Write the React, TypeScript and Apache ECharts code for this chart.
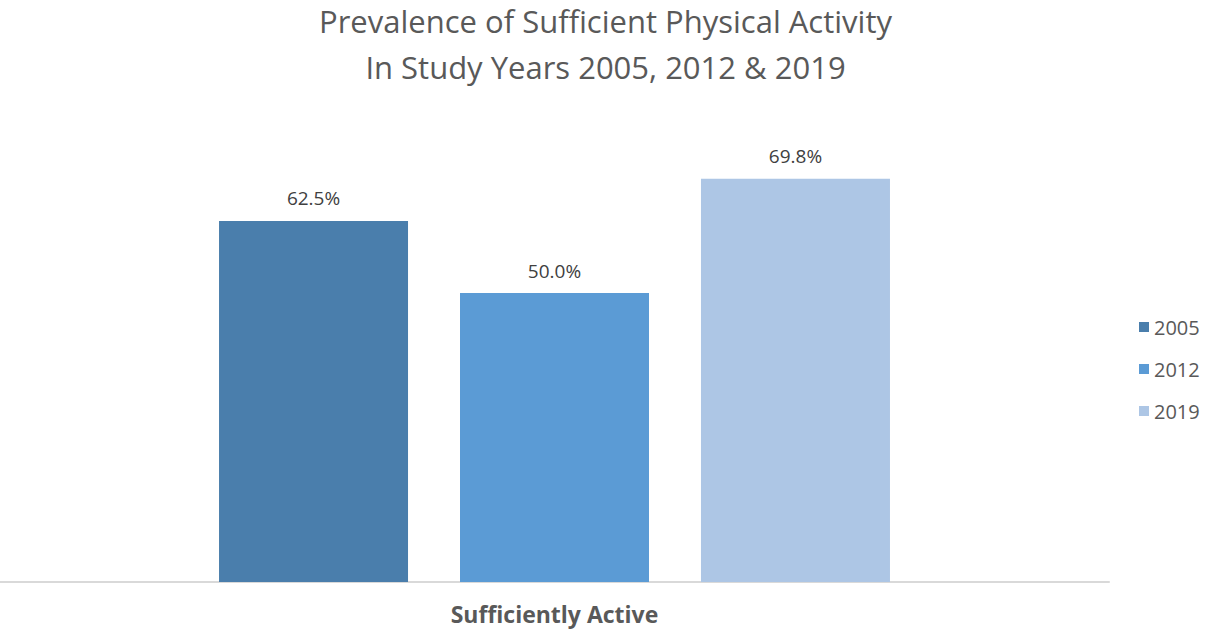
import React, { useEffect, useRef } from "react";
import * as echarts from "echarts";

const categories = ["Sufficiently Active"];
const years = ["2005", "2012", "2019"];
const values2005 = [62.5];
const values2012 = [50.0];
const values2019 = [69.8];
const colors = ["#4a7eac", "#5b9bd5", "#adc6e5"];
const titleText = "Prevalence of Sufficient Physical Activity\nIn Study Years 2005, 2012 & 2019";

export default function App() {
  const ref = useRef<HTMLDivElement>(null);
  useEffect(() => {
    const chart = echarts.init(ref.current!, null, { renderer: "svg" });
    const seriesData = [values2005, values2012, values2019];
    chart.setOption({
      animation: false,
      backgroundColor: "#ffffff",
      textStyle: { fontFamily: "Open Sans" },
      title: {
        text: titleText,
        left: "center",
        top: -7,
        textStyle: {
          fontFamily: "Open Sans",
          fontSize: 31,
          fontWeight: "normal",
          color: "#595959",
          lineHeight: 46,
        },
      },
      legend: {
        orient: "vertical",
        left: 1134,
        top: 312,
        itemWidth: 10,
        itemHeight: 10,
        itemGap: 22,
        icon: "rect",
        textStyle: { fontSize: 20, color: "#595959", fontFamily: "Open Sans" },
        data: years,
      },
      grid: { left: 0, right: 102, top: 62, bottom: 54 },
      xAxis: {
        type: "category",
        data: categories,
        axisLine: { lineStyle: { color: "#d9d9d9", width: 2 } },
        axisTick: { show: false },
        axisLabel: {
          margin: 20,
          fontSize: 23,
          fontWeight: "bold",
          color: "#595959",
          fontFamily: "Open Sans",
        },
      },
      yAxis: {
        type: "value",
        min: 0,
        max: 90,
        show: false,
        splitLine: { show: false },
      },
      series: years.map((y, i) => ({
        name: y,
        type: "bar",
        data: seriesData[i],
        barWidth: 189,
        barGap: "27.5%",
        itemStyle: { color: colors[i] },
        label: {
          show: true,
          position: "top",
          distance: 13,
          formatter: (p: any) => p.value.toFixed(1) + "%",
          fontSize: 19,
          color: "#404040",
          fontFamily: "Open Sans",
        },
      })),
    });
    return () => chart.dispose();
  }, []);
  return (
    <div
      ref={ref}
      style={{ position: "fixed", left: 0, top: 0, width: 1211, height: 636 }}
    />
  );
}
